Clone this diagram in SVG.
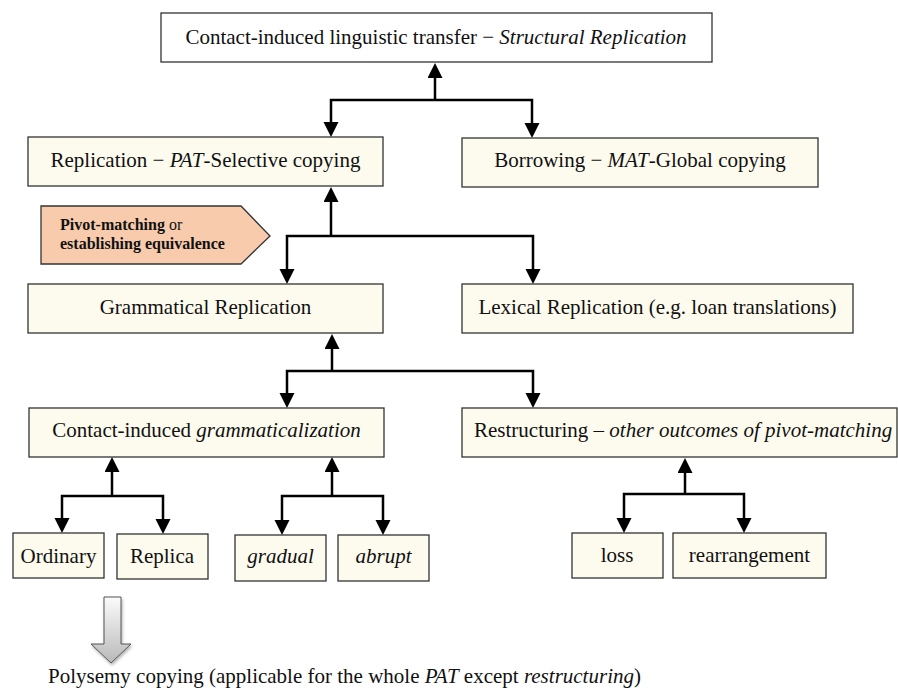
<svg xmlns="http://www.w3.org/2000/svg" width="898" height="695" viewBox="0 0 898 695">
  <style>
    .box { fill: #fdfbee; stroke: #333; stroke-width: 1.3; }
    .top { fill: #ffffff; stroke: #333; stroke-width: 1.3; }
    .lbl { font-family: "Liberation Serif", "Times New Roman", serif; font-size: 21px; fill: #111; }
    .c { text-anchor: middle; }
    .it { font-style: italic; }
    .conn { fill: none; stroke: #000; stroke-width: 2.5; marker-end: url(#ah); }
  </style>
  <defs>
    <marker id="ah" markerUnits="userSpaceOnUse" markerWidth="16" markerHeight="16" refX="9" refY="7.5" orient="auto">
      <path d="M0,0 L15,7.5 L0,15 Z" fill="#000"/>
    </marker>
    <linearGradient id="gArrow" x1="0" y1="0" x2="0" y2="1">
      <stop offset="0" stop-color="#fbfbfb"/>
      <stop offset="1" stop-color="#b9b9b9"/>
    </linearGradient>
    <filter id="shadow" x="-50%" y="-20%" width="200%" height="150%">
      <feDropShadow dx="1" dy="2" stdDeviation="1.5" flood-color="#000" flood-opacity="0.3"/>
    </filter>
  </defs>

  <g id="connectors">
    <path class="conn" d="M435,100 V69"/>
    <path class="conn" d="M435,100 H331 V131"/>
    <path class="conn" d="M435,100 H532 V132"/>

    <path class="conn" d="M331,236 V193"/>
    <path class="conn" d="M331,236 H287 V278"/>
    <path class="conn" d="M331,236 H533 V278"/>

    <path class="conn" d="M332,371 V340"/>
    <path class="conn" d="M332,371 H287 V402"/>
    <path class="conn" d="M332,371 H533 V402"/>

    <path class="conn" d="M112,496 V463"/>
    <path class="conn" d="M112,496 H62 V527"/>
    <path class="conn" d="M112,496 H163 V528"/>

    <path class="conn" d="M332,496 V463"/>
    <path class="conn" d="M332,496 H282 V529"/>
    <path class="conn" d="M332,496 H383 V529"/>

    <path class="conn" d="M685,494 V464"/>
    <path class="conn" d="M685,494 H624 V527"/>
    <path class="conn" d="M685,494 H744 V527"/>
  </g>

  <g id="n-top">
    <rect class="top" x="161" y="13" width="551" height="49"/>
    <text class="lbl c" x="436" y="44">Contact-induced linguistic transfer − <tspan class="it">Structural Replication</tspan></text>
  </g>

  <g id="n-replication">
    <rect class="box" x="28" y="137" width="355" height="49"/>
    <text class="lbl c" x="205.5" y="167">Replication − <tspan class="it">PAT</tspan>-Selective copying</text>
  </g>

  <g id="n-borrowing">
    <rect class="box" x="462" y="138" width="356" height="49"/>
    <text class="lbl c" x="640" y="167">Borrowing − <tspan class="it">MAT</tspan>-Global copying</text>
  </g>

  <g id="n-pivot">
    <polygon points="41,206 241,206 270,236 241,264 41,264" fill="#f8cbad" stroke="#333" stroke-width="1.3"/>
    <text x="60" y="230" font-family="'Liberation Serif', 'Times New Roman', serif" font-size="16" fill="#111"><tspan font-weight="bold">Pivot-matching</tspan> or</text>
    <text x="60" y="249" font-family="'Liberation Serif', 'Times New Roman', serif" font-size="16" font-weight="bold" fill="#111">establishing equivalence</text>
  </g>

  <g id="n-grammatical">
    <rect class="box" x="28" y="284" width="355" height="49"/>
    <text class="lbl c" x="205.5" y="314">Grammatical Replication</text>
  </g>

  <g id="n-lexical">
    <rect class="box" x="462" y="284" width="391" height="49"/>
    <text class="lbl c" x="657.5" y="314">Lexical Replication (e.g. loan translations)</text>
  </g>

  <g id="n-gramm">
    <rect class="box" x="29" y="408" width="355" height="49"/>
    <text class="lbl c" x="206.5" y="437">Contact-induced <tspan class="it">grammaticalization</tspan></text>
  </g>

  <g id="n-restructuring">
    <rect class="box" x="462" y="408" width="435" height="49"/>
    <text class="lbl" x="474" y="437">Restructuring – <tspan class="it">other outcomes of pivot-matching</tspan></text>
  </g>

  <g id="n-ordinary">
    <rect class="box" x="13" y="533" width="91" height="45"/>
    <text class="lbl c" x="58.5" y="563">Ordinary</text>
  </g>

  <g id="n-replica">
    <rect class="box" x="117" y="534" width="91" height="45"/>
    <text class="lbl c" x="162" y="563">Replica</text>
  </g>

  <g id="n-gradual">
    <rect class="box" x="235" y="535" width="91" height="46"/>
    <text class="lbl c it" x="280.5" y="563">gradual</text>
  </g>

  <g id="n-abrupt">
    <rect class="box" x="338" y="535" width="91" height="46"/>
    <text class="lbl c it" x="383.5" y="563">abrupt</text>
  </g>

  <g id="n-loss">
    <rect class="box" x="572" y="533" width="91" height="45"/>
    <text class="lbl c" x="617" y="562">loss</text>
  </g>

  <g id="n-rearrangement">
    <rect class="box" x="673" y="533" width="153" height="45"/>
    <text class="lbl c" x="749.5" y="562">rearrangement</text>
  </g>

  <g id="n-polysemy">
    <polygon points="104,597 121,597 121,644 131,644 111,663 91,644 104,644" fill="url(#gArrow)" stroke="#555" stroke-width="1" filter="url(#shadow)"/>
    <text class="lbl" x="48" y="683">Polysemy copying (applicable for the whole <tspan class="it">PAT</tspan> except <tspan class="it">restructuring</tspan>)</text>
  </g>
</svg>
